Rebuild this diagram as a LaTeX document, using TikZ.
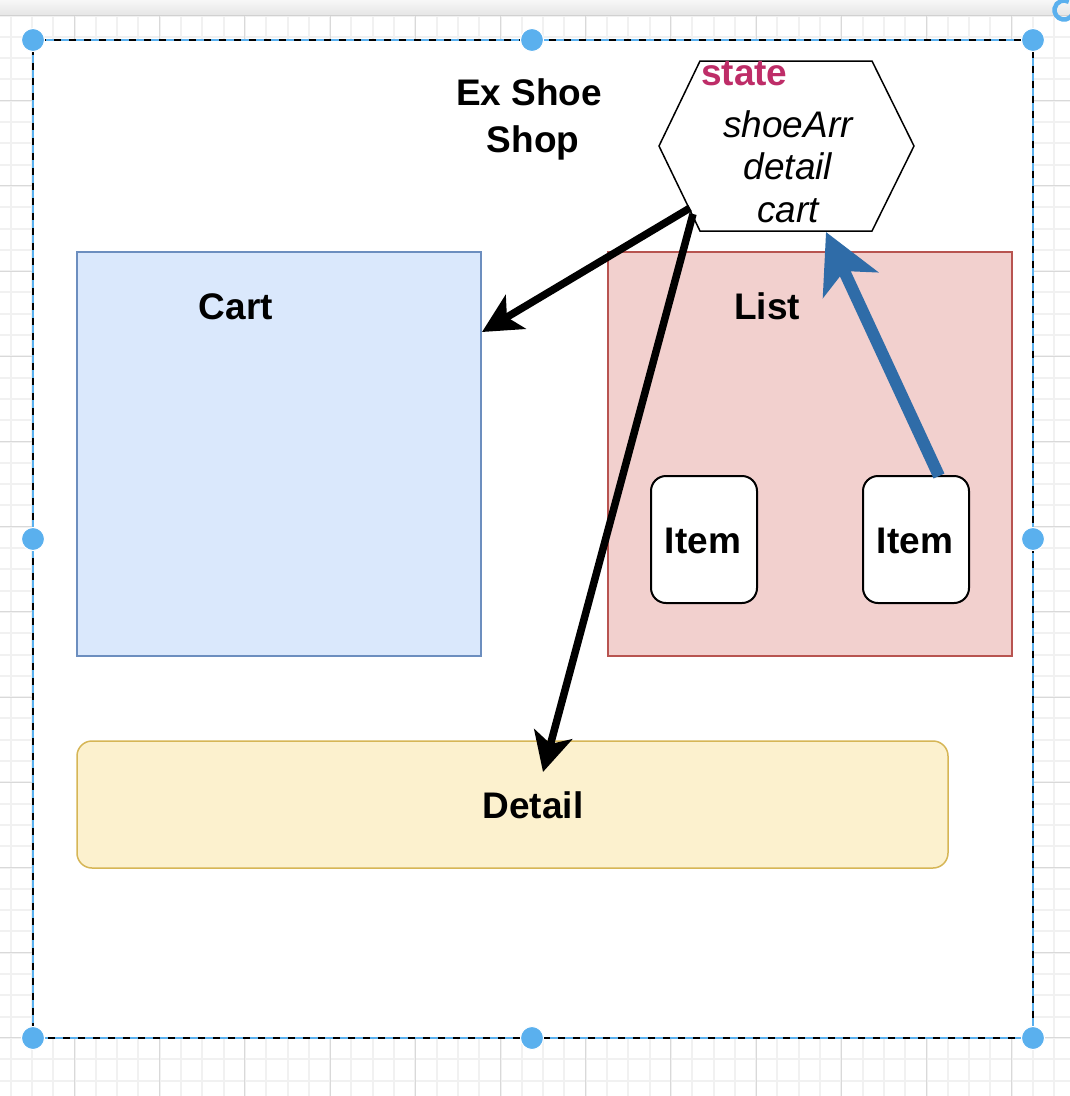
\documentclass[tikz,border=0pt]{standalone}
\usepackage{fontspec}
\setmainfont{Liberation Sans}
\usetikzlibrary{arrows.meta}
\definecolor{gridminor}{HTML}{F1F1F1}
\definecolor{gridmajor}{HTML}{D9D9D9}
\definecolor{selblue}{HTML}{5AB0EE}
\definecolor{cartfill}{HTML}{DAE8FC}
\definecolor{cartline}{HTML}{6C8EBF}
\definecolor{listfill}{HTML}{F2D0CE}
\definecolor{listline}{HTML}{B85450}
\definecolor{detfill}{HTML}{FCF1CE}
\definecolor{detline}{HTML}{D6B656}
\definecolor{statecol}{HTML}{BE2D68}
\definecolor{arrblue}{HTML}{2F6CA8}
\begin{document}
\begin{tikzpicture}[x=1pt,y=-1pt,
  minorline/.style={gridminor,line width=2pt},
  majorline/.style={gridmajor,line width=1pt},
  boldlbl/.style={font=\fontsize{37}{42.5}\selectfont\bfseries,inner sep=0pt,anchor=base},
  itallbl/.style={font=\fontsize{37}{42.5}\selectfont\itshape,inner sep=0pt,anchor=base},
  plainbox/.style={draw,line width=1.5pt,inner sep=0pt},
  itembox/.style={draw=black,fill=white,line width=2pt,rounded corners=15pt,inner sep=0pt,minimum width=106,minimum height=127},
  blkarrow/.style={black,line width=7.5pt,-{Stealth[length=39pt,width=39pt,inset=10pt]}},
  bluearrow/.style={arrblue,line width=12pt,-{Stealth[length=58pt,width=60pt,inset=15pt]}},
  handle/.style={fill=selblue,draw=white,line width=1pt}
]
\useasboundingbox (0,0) rectangle (1070,1096);
\fill[white] (0,0) rectangle (1070,1096);
% grid
\foreach \i in {0,...,51} {
  \draw[minorline] ({-10.7+21.3*\i},15) -- ({-10.7+21.3*\i},1096);
  \draw[minorline] (0,{15.5+21.3*\i}) -- (1070,{15.5+21.3*\i});
}
\foreach \i in {0,...,13} {
  \draw[majorline] ({-10.7+85.2*\i},15) -- ({-10.7+85.2*\i},1096);
  \draw[majorline] (0,{15.5+85.2*\i}) -- (1070,{15.5+85.2*\i});
}
% top bar
\shade[top color=white!97!black,bottom color=white!90!black] (0,0) rectangle (1070,15);
\draw[white!82!black,line width=1pt] (0,15) -- (1070,15);
% container
\fill[white] (33,40) rectangle (1033,1038);
\draw[black,line width=1.5pt] (33,40) rectangle (1033,1038);
\draw[selblue,line width=2.5pt,dash pattern=on 8pt off 7pt] (33,40) rectangle (1033,1038);
% rotate icon
\draw[selblue,line width=4.5pt] (1064,10) ++(10:9.5) arc[start angle=10,end angle=300,radius=9.5];

% title
\node[boldlbl] (title1) at (529,105) {Ex Shoe};
\node[boldlbl] (title2) at (533,152) {Shop};

% boxes
\node[plainbox,draw=cartline,fill=cartfill,minimum width=404,minimum height=404] (cart) at (279,454) {};
\node[boldlbl] (cartlbl) at (236,319) {Cart};
\node[plainbox,draw=listline,fill=listfill,minimum width=404,minimum height=404] (list) at (810,454) {};
\node[boldlbl] (listlbl) at (767,319) {List};
\node[itembox] (item1) at (704,539.5) {};
\node[boldlbl] (item1lbl) at (703,553) {Item};
\node[itembox] (item2) at (916,539.5) {};
\node[boldlbl] (item2lbl) at (915,553) {Item};
\node[draw=detline,fill=detfill,line width=1.5pt,rounded corners=15pt,inner sep=0pt,minimum width=871,minimum height=127] (detail) at (512.5,804.5) {};
\node[boldlbl] (detaillbl) at (533,818) {Detail};

% state hexagon
\draw[black,line width=1.5pt,fill=white] (700,61) -- (872,61) -- (914,146) -- (872,231) -- (700,231) -- (659,146) -- cycle;
\node[boldlbl,anchor=base west,text=statecol] (statelbl) at (701,85) {state};
\node[itallbl] (s1lbl) at (788,137) {shoeArr};
\node[itallbl] (s2lbl) at (788,179.5) {detail};
\node[itallbl] (s3lbl) at (788,222) {cart};

% connector points
\coordinate (hexA) at (690,208);
\coordinate (hexB) at (693,214);
\coordinate (hexC) at (826,232);
\coordinate (cartIn) at (482,332);
\coordinate (detIn) at (543,772);
\coordinate (itemOut) at (939,476);

\draw[blkarrow] (hexA) -- (cartIn);
\draw[blkarrow] (hexB) -- (detIn);
\draw[bluearrow] (itemOut) -- (hexC);

% selection handles
\foreach \p in {(33,40),(532,40),(1033,40),(33,539),(1033,539),(33,1038),(532,1038),(1033,1038)} {
  \path[handle] \p circle[radius=11.5];
}
\end{tikzpicture}
\end{document}
